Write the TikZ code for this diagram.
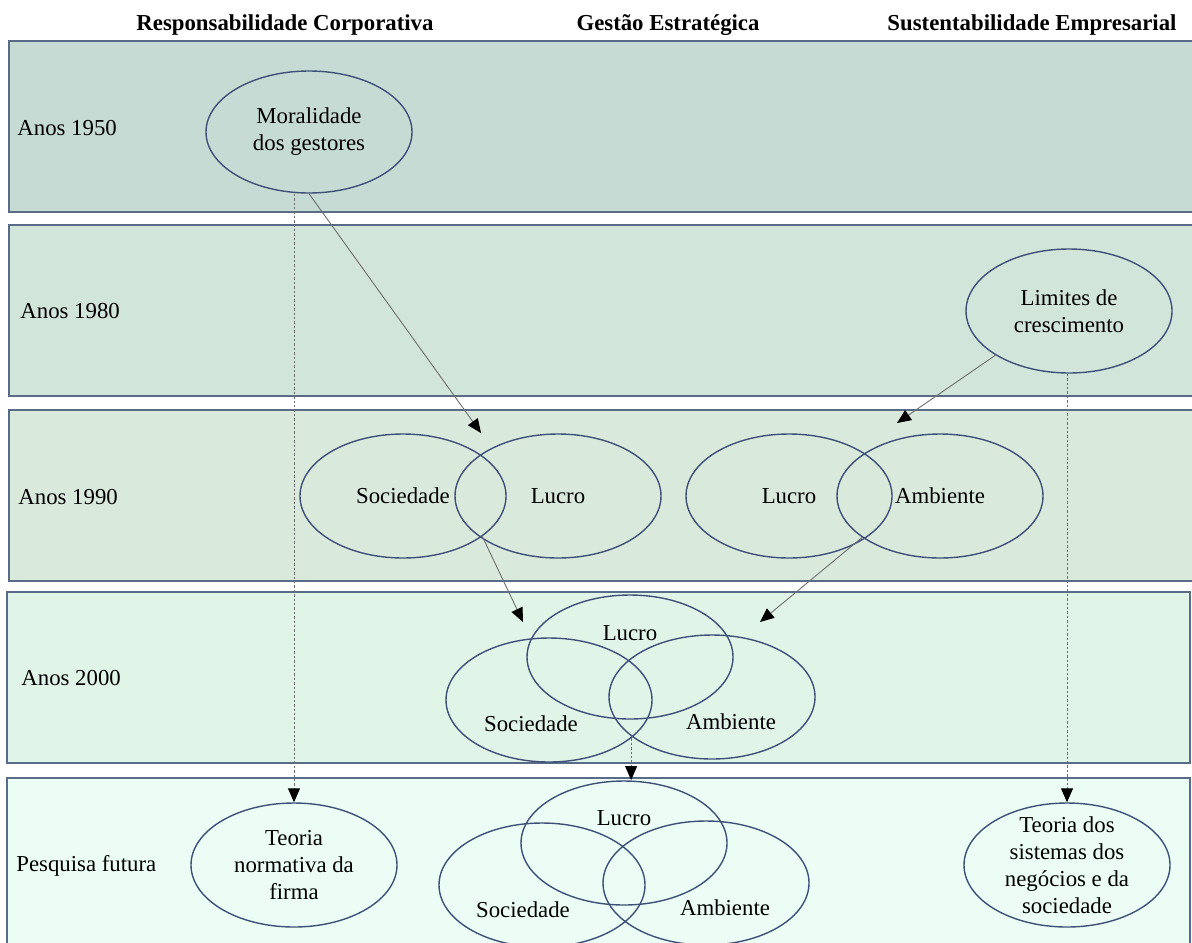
\documentclass[tikz,border=0pt]{standalone}
\usepackage{fontspec}
\setmainfont{Liberation Serif}
\usetikzlibrary{shapes.geometric,arrows.meta}

\definecolor{bandA}{HTML}{C6DBD3}
\definecolor{bandB}{HTML}{D2E5DA}
\definecolor{bandC}{HTML}{D9EADD}
\definecolor{bandD}{HTML}{E1F4E8}
\definecolor{bandE}{HTML}{EBFDF5}
\definecolor{bandline}{HTML}{5A6B88}
\definecolor{ovalline}{HTML}{3F5078}
\definecolor{linkgray}{HTML}{6E6E6E}

\begin{document}
\begin{tikzpicture}[x=0.5pt, y=-0.5pt,
  every node/.style={font=\rmfamily\fontsize{11.4}{13.5}\selectfont, text=black},
  head/.style={font=\rmfamily\fontsize{11.4}{13.5}\selectfont\bfseries},
  rowlab/.style={anchor=west, inner sep=0pt},
  band/.style={fill=#1, draw=bandline, line width=1pt},
  oval/.style={ellipse, draw=ovalline, line width=0.7pt, minimum width=103pt,
    minimum height=62pt, inner sep=0pt, align=center},
  solidarrow/.style={-{Triangle[length=7pt,width=6pt,color=black]}, draw=linkgray, line width=0.45pt},
  dotarrow/.style={-{Triangle[length=7pt,width=6pt,color=black]}, draw=linkgray, line width=0.45pt,
    dash pattern=on 1.2pt off 1pt}]

  \useasboundingbox (0,0) rectangle (1192,942);
  \clip (0,0) rectangle (1192,942);

  % --- 1. faixas (bands) ---
  \draw[band=bandA] (9,41) rectangle (1198,212);
  \draw[band=bandB] (9,225) rectangle (1198,396);
  \draw[band=bandC] (9,410) rectangle (1198,581);
  \draw[band=bandD] (7,592) rectangle (1190,763);
  \draw[band=bandE] (7,778) rectangle (1190,960);

  % --- 2. titulos das colunas ---
  \node[head] (hRC) at (285,25) {Responsabilidade Corporativa};
  \node[head] (hGE) at (668,25) {Gestão Estratégica};
  \node[head] (hSE) at (1032,25) {Sustentabilidade Empresarial};

  % --- 3. rotulos das linhas ---
  \node[rowlab] (r1950) at (17,128) {Anos 1950};
  \node[rowlab] (r1980) at (20,311) {Anos 1980};
  \node[rowlab] (r1990) at (18,497) {Anos 1990};
  \node[rowlab] (r2000) at (21,678) {Anos 2000};
  \node[rowlab] (rfut) at (16,866) {Pesquisa futura};

  % --- 4. elipses: anos 1950 / 1980 / 1990 ---
  \node[oval, minimum height=61pt] (moral) at (309,132) {Moralidade\\dos gestores};
  \node[oval] (lim) at (1069,311) {Limites de\\crescimento};

  \node[oval] (soc3) at (403,496) {Sociedade};
  \node[oval] (luc3) at (558,496) {Lucro};
  \node[oval] (lucB3) at (789,496) {Lucro};
  \node[oval] (amb3) at (940,496) {Ambiente};

  % --- 5. anos 2000: tres elipses ---
  \node[oval] (luc4) at (630,657) {};
  \node[oval] (soc4) at (549,700) {};
  \node[oval] (amb4) at (712,697) {};
  \node (luc4T) at (630,633) {Lucro};
  \node (soc4T) at (531,724) {Sociedade};
  \node (amb4T) at (731,722) {Ambiente};

  % --- 6. pesquisa futura ---
  \node[oval] (teo) at (294,865) {Teoria\\normativa da\\firma};
  \node[oval] (luc5) at (624,843) {};
  \node[oval] (soc5) at (542,885) {};
  \node[oval] (amb5) at (706,883) {};
  \node (luc5T) at (624,818) {Lucro};
  \node (soc5T) at (523,910) {Sociedade};
  \node (amb5T) at (725,908) {Ambiente};
  \node[oval, label={[align=center]center:Teoria dos\\sistemas dos\\negócios e da\\sociedade}] (sis) at (1067,865) {};

  % --- 7. setas ---
  \coordinate (tipA) at (481,433);
  \coordinate (tipB) at (897,423);
  \coordinate (tipC) at (523,622);
  \coordinate (tipD) at (760,622);
  \coordinate (tipE) at (631,780);

  \draw[solidarrow] (moral.south) -- (tipA);
  \draw[solidarrow] (lim.211) -- (tipB);
  \draw[solidarrow] (soc3.-27) -- (tipC);
  \draw[solidarrow] (amb3.-152) -- (tipD);

  \draw[dotarrow] (moral.south -| teo.north) -- (teo.north);
  \draw[dotarrow] (lim.south -| sis.north) -- (sis.north);
  \draw[dotarrow] (soc4.-25) -- (soc4.-25 |- tipE);

\end{tikzpicture}
\end{document}
